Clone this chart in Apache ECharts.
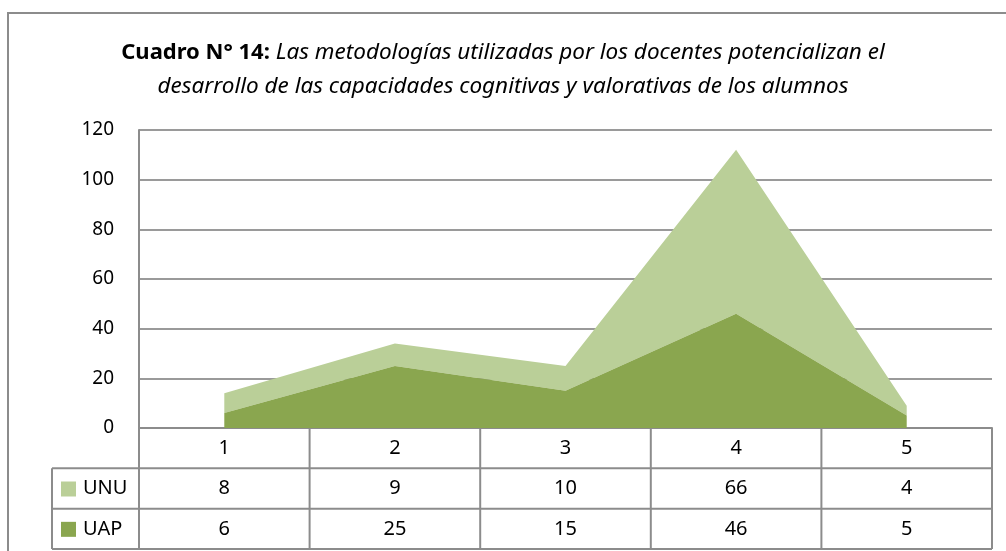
<!DOCTYPE html>
<html>
<head>
<meta charset="utf-8">
<script src="https://cdn.jsdelivr.net/npm/echarts@6/dist/echarts.min.js"></script>
<style>
  html, body { margin: 0; padding: 0; background: #fff; }
  #chart { width: 1006px; height: 551px; }
</style>
</head>
<body>
<div id="chart"></div>
<script>
  // datos del cuadro
  var categorias = ['1', '2', '3', '4', '5'];
  var serieUNU = [8, 9, 10, 66, 4];
  var serieUAP = [6, 25, 15, 46, 5];
  var nombres = ['UNU', 'UAP'];
  var colores = ['#bacf98', '#8aa64f'];
  var tituloNegrita = 'Cuadro N° 14:';
  var tituloLinea1 = ' Las metodologías utilizadas por los docentes potencializan el';
  var tituloLinea2 = 'desarrollo de las capacidades cognitivas y valorativas de los alumnos';

  var fuente = 'Noto Sans';
  var gris = '#8c8c8c';
  var chart = echarts.init(document.getElementById('chart'));

  var gridLeft = 139, gridRight = 14, gridTop = 130, gridBottom = 123;

  chart.setOption({
    animation: false,
    textStyle: { fontFamily: fuente },
    title: {
      left: 'center',
      top: 31,
      text: '{b|' + tituloNegrita + '}{i|' + tituloLinea1 + '}\n{i|' + tituloLinea2 + '}',
      textStyle: {
        fontWeight: 'normal',
        rich: {
          b: { fontFamily: fuente, fontWeight: 'bold', fontSize: 22, color: '#000', lineHeight: 34 },
          i: { fontFamily: fuente, fontStyle: 'italic', fontWeight: 'normal', fontSize: 22.5, color: '#000', lineHeight: 34 }
        }
      }
    },
    grid: { left: gridLeft, right: gridRight, top: gridTop, bottom: gridBottom, containLabel: false },
    xAxis: {
      type: 'category',
      data: categorias,
      boundaryGap: true,
      axisLine: { show: true, lineStyle: { color: gris, width: 2 } },
      axisTick: { show: false },
      axisLabel: { show: false },
      splitLine: { show: false }
    },
    yAxis: {
      type: 'value',
      min: 0,
      max: 120,
      interval: 20,
      axisLine: { show: true, lineStyle: { color: gris, width: 2 } },
      axisTick: { show: false },
      axisLabel: { color: '#000', fontSize: 19, margin: 25, fontFamily: fuente },
      splitLine: { lineStyle: { color: '#9a9a9a', width: 2 } }
    },
    series: [
      {
        name: nombres[1],
        type: 'line',
        stack: 'total',
        data: serieUAP,
        symbol: 'none',
        lineStyle: { width: 0 },
        areaStyle: { color: colores[1], opacity: 1 },
        z: 3
      },
      {
        name: nombres[0],
        type: 'line',
        stack: 'total',
        data: serieUNU,
        symbol: 'none',
        lineStyle: { width: 0 },
        areaStyle: { color: colores[0], opacity: 1 },
        z: 2
      }
    ]
  });

  // tabla de datos debajo del gráfico
  function dibujarTabla() {
    var w = chart.getWidth(), h = chart.getHeight();
    var x0 = gridLeft, x1 = w - gridRight;
    var yAxis0 = chart.convertToPixel({ yAxisIndex: 0 }, 0);
    var filaH = (h - 2 - yAxis0) / 3;
    var colW = (x1 - x0) / categorias.length;
    var leyL = 52;
    var els = [];
    var linea = function (xa, ya, xb, yb) {
      els.push({ type: 'line', shape: { x1: xa, y1: ya, x2: xb, y2: yb },
        style: { stroke: gris, lineWidth: 2 }, z: 10 });
    };
    var texto = function (t, x, y, align) {
      els.push({ type: 'text', x: x, y: y, z: 11,
        style: { text: t, fill: '#000', font: '20px "' + fuente + '"', align: align || 'center', verticalAlign: 'middle' } });
    };
    var ys = [yAxis0, yAxis0 + filaH, yAxis0 + 2 * filaH, yAxis0 + 3 * filaH];
    // horizontales
    linea(leyL, ys[1], x1, ys[1]);
    linea(leyL, ys[2], x1, ys[2]);
    linea(leyL, ys[3], x1, ys[3]);
    // verticales
    linea(leyL, ys[1], leyL, ys[3]);
    for (var k = 0; k <= categorias.length; k++) {
      linea(x0 + colW * k, ys[0], x0 + colW * k, ys[3]);
    }
    var filas = [serieUNU, serieUAP];
    categorias.forEach(function (c, i) {
      var cx = chart.convertToPixel({ xAxisIndex: 0 }, i);
      texto(c, cx, (ys[0] + ys[1]) / 2);
      texto(String(filas[0][i]), cx, (ys[1] + ys[2]) / 2);
      texto(String(filas[1][i]), cx, (ys[2] + ys[3]) / 2);
    });
    // claves de leyenda
    for (var r = 0; r < 2; r++) {
      var cy = (ys[r + 1] + ys[r + 2]) / 2;
      els.push({ type: 'rect', shape: { x: 61, y: cy - 7, width: 15, height: 15 },
        style: { fill: colores[r] }, z: 11 });
      texto(nombres[r], 83, cy, 'left');
    }
    // marco exterior
    els.push({ type: 'rect', shape: { x: 8, y: 13, width: 1010, height: 560 },
      style: { fill: null, stroke: '#8c8c8c', lineWidth: 2 }, z: 0, silent: true });
    chart.setOption({ graphic: els });
  }
  dibujarTabla();
</script>
</body>
</html>
